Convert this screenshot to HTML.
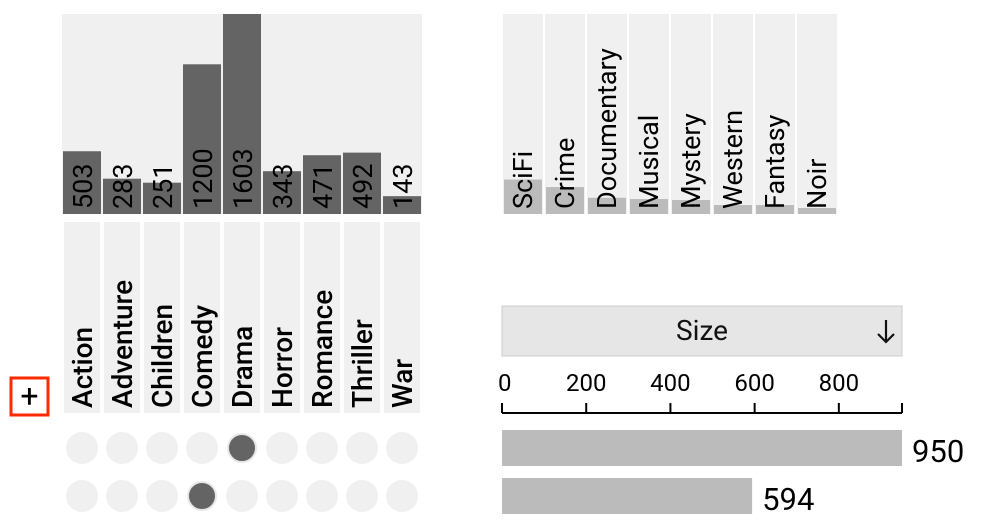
<!DOCTYPE html>
<html><head><meta charset="utf-8"><style>
html,body{margin:0;padding:0;background:#fff;}
svg{display:block;font-family:"Roboto","Liberation Sans",sans-serif;}
</style></head><body>
<svg id="chart" width="986" height="524" viewBox="0 0 986 524" xmlns="http://www.w3.org/2000/svg">
<defs id="defs"></defs>
<g id="setbars"></g>
<g id="labels"></g>
<g id="dots"></g>
<g id="others"></g>
<g>
  <rect x="11" y="378" width="37" height="37" fill="#fff" stroke="#ff2a00" stroke-width="3"/>
  <text x="29.5" y="407" text-anchor="middle" font-size="32" fill="#000">+</text>
</g>
<g>
  <rect x="502" y="306" width="400" height="50" fill="#e6e6e6" stroke="#ccc" stroke-width="1"/>
  <text x="702" y="340" text-anchor="middle" font-size="28" fill="#111">Size</text>
  <g stroke="#111" stroke-width="2.2" fill="none">
    <line x1="886" y1="320" x2="886" y2="342"/>
    <polyline points="878,334 886,342 894,334"/>
  </g>
</g>
<g id="axis"></g>
<g id="sizebars"></g>
</svg>
<script>
const sets = ["Action","Adventure","Children","Comedy","Drama","Horror","Romance","Thriller","War"];
const setSizes = [503,283,251,1200,1603,343,471,492,143];
const otherSets = ["SciFi","Crime","Documentary","Musical","Mystery","Western","Fantasy","Noir"];
const otherSizes = [276,216,130,120,112,72,72,48];
const intersections = [[4],[3]];
const intersectionSizes = [950,594];
const axisTicks = [0,200,400,600,800];

const NS="http://www.w3.org/2000/svg";
function mk(tag,attrs,parent,txt){const e=document.createElementNS(NS,tag);for(const k in attrs)e.setAttribute(k,attrs[k]);if(txt!=null)e.textContent=txt;parent.appendChild(e);return e;}
const maxSet=Math.max(...setSizes);
const yS=v=>200*v/maxSet;
const colX=i=>63+40*i;
const defs=document.getElementById('defs');
const gb=document.getElementById('setbars');
mk('rect',{x:62,y:14,width:360,height:200,fill:'#f0f0f0'},gb);
setSizes.forEach((v,i)=>{
  const h=yS(v),x=colX(i);
  const r=mk('rect',{x:x,y:214-h,width:38,height:h,fill:'#646464'},gb);
  
  
  const cp=mk('clipPath',{id:'cp'+i},defs);
  mk('rect',{x:x,y:214-h,width:38,height:h},cp);
  const tx=x+29,ty=209;
  const t1=mk('text',{transform:`translate(${tx},${ty}) rotate(-90)`,'font-size':27,fill:'#000'},gb,String(v));
  
  
  const t2=mk('text',{transform:`translate(${tx},${ty}) rotate(-90)`,'font-size':27,fill:'#fff','clip-path':`url(#cp${i})`},gb,String(v));
  
  
});
const gl=document.getElementById('labels');
sets.forEach((s,i)=>{
  const g=mk('g',{},gl);
  
  
  mk('rect',{x:colX(i)+1,y:222,width:36,height:191,fill:'#f0f0f0'},g);
  mk('text',{transform:`translate(${colX(i)+29},408) rotate(-90)`,'font-size':28,'font-weight':500,fill:'#000'},g,s);
});
const gd=document.getElementById('dots');
intersections.forEach((row,r)=>{
  const cy=448+48*r;
  sets.forEach((s,i)=>{
    const on=row.includes(i);
    const c=mk('circle',{cx:colX(i)+19,cy:cy,r:on?14:16,fill:on?'#646464':'#f0f0f0',stroke:on?'#e8e8e8':'none','stroke-width':on?2:0},gd);
    
    
  });
});
const go=document.getElementById('others');
otherSets.forEach((s,i)=>{
  const x=503+42*i,h=yS(otherSizes[i]);
  const g=mk('g',{},go);
  
  
  mk('rect',{x:x,y:14,width:40,height:200,fill:'#f0f0f0'},g);
  mk('rect',{x:x+1,y:214-h,width:38,height:h,fill:'#bbbbbb'},g);
  mk('text',{transform:`translate(${x+29},209) rotate(-90)`,'font-size':27,fill:'#000'},g,s);
});
const maxI=950;
const xS=v=>502+400*v/maxI;
const ga=document.getElementById('axis');
mk('line',{x1:502,y1:413,x2:902,y2:413,stroke:'#000','stroke-width':2},ga);
[...axisTicks,maxI].forEach(t=>{
  mk('line',{x1:xS(t),y1:403,x2:xS(t),y2:413,stroke:'#000','stroke-width':2},ga);
});
axisTicks.forEach(t=>{
  const tt=mk('text',{x:t===0?xS(t)-4:xS(t),y:391,'text-anchor':t===0?'start':'middle','font-size':24,fill:'#000'},ga,String(t));
  
  
});
const gs=document.getElementById('sizebars');
intersectionSizes.forEach((v,r)=>{
  const y=430+48*r;
  const b=mk('rect',{x:502,y:y,width:xS(v)-502,height:36,fill:'#bbbbbb'},gs);
  
  
  const t=mk('text',{x:xS(v)+10,y:y+32,'font-size':31,fill:'#000'},gs,String(v));
  
  
});
</script>
</body></html>
